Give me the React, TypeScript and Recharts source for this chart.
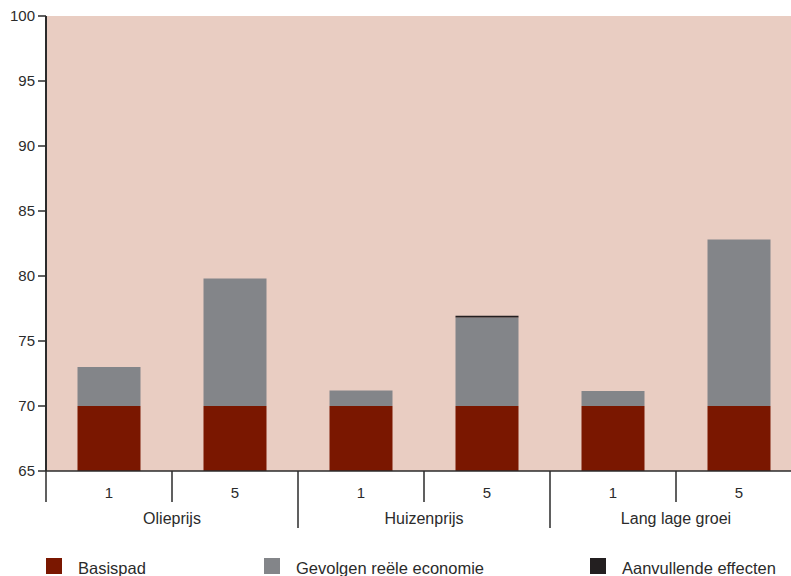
import { BarChart, Bar, XAxis, YAxis, CartesianGrid } from "recharts";

// scenario groups and the year under each bar
const groups = ["Olieprijs", "Olieprijs", "Huizenprijs", "Huizenprijs", "Lang lage groei", "Lang lage groei"];
const years = ["1", "5", "1", "5", "1", "5"];

// stacked series (index level)
const basispad = [70, 70, 70, 70, 70, 70];
const gevolgen = [3.0, 9.8, 1.2, 6.8, 1.15, 12.8];
const aanvullend = [0, 0, 0, 0.15, 0, 0];

const yTicks = [65, 70, 75, 80, 85, 90, 95, 100];

const series = [
  { key: "basispad", name: "Basispad", color: "#7a1700" },
  { key: "gevolgen", name: "Gevolgen reële economie", color: "#838589" },
  { key: "aanvullend", name: "Aanvullende effecten", color: "#231f20" },
];

const data = years.map((y, i) => ({
  sub: y,
  group: groups[i],
  basispad: basispad[i],
  gevolgen: gevolgen[i],
  aanvullend: aanvullend[i],
}));

const CHART_W = 820;
const CHART_H = 576;
const Y_W = 46;
const MARGIN_R = 18;
const SLOT = (CHART_W - Y_W - MARGIN_R) / data.length;
const TEXT = "#2b2b2b";
const FONT = "'Liberation Sans', Arial, sans-serif";

function GroupTick(props: any) {
  const { x, y, payload } = props;
  const i = payload.index;
  const left = x - SLOT / 2;
  const firstOfGroup = i === 0 || groups[i] !== groups[i - 1];
  const long = firstOfGroup && i > 0;
  const lastOfGroup = i === groups.length - 1 || groups[i] !== groups[i + 1];
  return (
    <g>
      <line x1={left} x2={left} y1={y} y2={y + (long ? 57 : 31)} stroke={TEXT} strokeWidth={1.5} />
      <text x={x} y={y + 27} textAnchor="middle" fill={TEXT} fontSize={15} fontFamily={FONT}>
        {payload.value}
      </text>
      {lastOfGroup && !firstOfGroup && (
        <text x={left} y={y + 53} textAnchor="middle" fill={TEXT} fontSize={16} fontFamily={FONT}>
          {groups[i]}
        </text>
      )}
    </g>
  );
}

export default function App() {
  return (
    <div style={{ position: "fixed", left: 0, top: 0, width: 791, height: 576, overflow: "hidden", background: "#fff", fontFamily: FONT }}>
      <BarChart
        width={CHART_W}
        height={CHART_H}
        data={data}
        margin={{ top: 16, right: MARGIN_R, left: 0, bottom: 0 }}
        barCategoryGap="25%"
      >
        <CartesianGrid horizontal={false} vertical={false} fill="#e9cdc2" stroke="none" />
        <XAxis
          dataKey="sub"
          interval={0}
          height={105}
          tickSize={0}
          tickMargin={0}
          tickLine={false}
          axisLine={{ stroke: TEXT, strokeWidth: 1.5 }}
          tick={<GroupTick />}
        />
        <YAxis
          width={Y_W}
          domain={[65, 100]}
          ticks={yTicks}
          allowDataOverflow
          interval={0}
          tickSize={8}
          tickMargin={3}
          tick={{ fill: TEXT, fontSize: 15, fontFamily: FONT }}
          tickLine={{ stroke: TEXT, strokeWidth: 1.5 }}
          axisLine={{ stroke: TEXT, strokeWidth: 2 }}
        />
        {series.map((s) => (
          <Bar key={s.key} dataKey={s.key} name={s.name} stackId="a" fill={s.color} isAnimationActive={false} />
        ))}
      </BarChart>
      <div style={{ position: "absolute", top: 558, left: 0, width: 791 }}>
        {series.map((s, i) => (
          <div
            key={s.key}
            style={{ position: "absolute", left: [46, 264, 590][i], top: 0, display: "flex", alignItems: "flex-start", whiteSpace: "nowrap" }}
          >
            <div style={{ width: 16, height: 16, background: s.color }} />
            <span style={{ marginLeft: 16, fontSize: 16.5, color: TEXT, lineHeight: "18px", marginTop: 1 }}>{s.name}</span>
          </div>
        ))}
      </div>
    </div>
  );
}
